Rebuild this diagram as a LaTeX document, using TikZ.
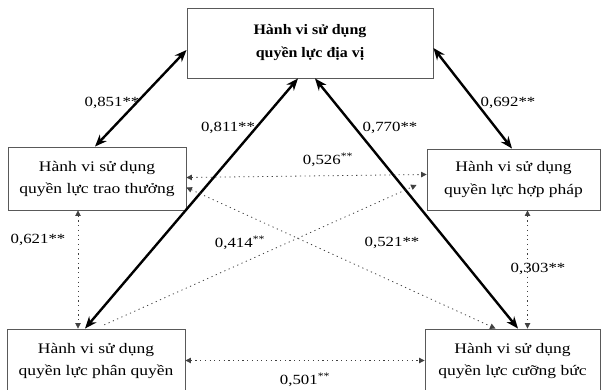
\documentclass[tikz,border=0pt]{standalone}
\usepackage{fontspec}
\setmainfont{Liberation Serif}[FakeStretch=1.2]
\newfontfamily\topfont{Liberation Serif}[FakeStretch=1.1]
\usetikzlibrary{arrows.meta}
\begin{document}
\begin{tikzpicture}[x=1pt,y=-1pt,
  box/.style={draw=black!65, line width=0.9pt, align=center, inner sep=0pt, font=\fontsize{14.6}{22}\selectfont},
  strong/.style={line width=2.4pt, {Stealth[length=12pt,width=9.5pt]}-{Stealth[length=12pt,width=9.5pt]}},
  weak/.style={line width=0.8pt, black!75, dash pattern=on 1.2pt off 3.5pt, {Triangle[length=5.5pt,width=5.5pt]}-{Triangle[length=5.5pt,width=5.5pt]}},
  lab/.style={font=\fontsize{14}{16}\selectfont, inner sep=0pt}]
\useasboundingbox (0,0) rectangle (602,390);
\fill[white] (0,0) rectangle (602,390);
\node[box, minimum width=246pt, minimum height=70pt, font=\topfont\bfseries\fontsize{14.5}{23}\selectfont] (top) at (310,43) {Hành vi sử dụng\\quyền lực địa vị};
\node[box, minimum width=178pt, minimum height=63pt] (left) at (97,178.5) {Hành vi sử dụng\\quyền lực trao thưởng};
\node[box, minimum width=173pt, minimum height=61pt] (right) at (513.5,179.5) {Hành vi sử dụng\\quyền lực hợp pháp};
\node[box, minimum width=178pt, minimum height=63pt] (bl) at (96,360.5) {Hành vi sử dụng\\quyền lực phân quyền};
\node[box, minimum width=175pt, minimum height=63pt] (br) at (512.5,360.5) {Hành vi sử dụng\\quyền lực cưỡng bức};
% strong links
\draw[strong] ([yshift=-7pt]top.west) -- ([xshift=-2pt]left.north);
\draw[strong] ([yshift=-5pt]top.east) -- ([xshift=-1.5pt]right.north);
\draw[strong] ([xshift=-12pt]top.south) -- ([xshift=-11pt]bl.north);
\draw[strong] ([xshift=5pt]top.south) -- ([xshift=5.5pt]br.north);
% weak links
\draw[weak] ([yshift=1pt]left.east) -- ([yshift=5pt]right.west);
\draw[weak] ([yshift=-9pt]left.east) -- ([xshift=-17pt]br.north);
\draw[weak, -{Triangle[length=5.5pt,width=5.5pt]}, shorten <=9pt, shorten >=11pt] ([xshift=0pt]bl.north) -- ([yshift=-1pt]right.west);
\draw[weak] ([xshift=-19pt]left.south) -- ([xshift=-18pt]bl.north);
\draw[weak] ([xshift=14pt]right.south) -- ([xshift=15pt]br.north);
\draw[weak] (bl.east) -- (br.west);
% labels
\node[lab] (l851) at (112,103) {0,851**};
\node[lab] (l811) at (228,128) {0,811**};
\node[lab] (l770) at (390,128) {0,770**};
\node[lab] (l692) at (508,103) {0,692**};
\node[lab] (l526) at (328,160) {0,526\textsuperscript{**}};
\node[lab] (l621) at (38,240) {0,621**};
\node[lab] (l414) at (240,243) {0,414\textsuperscript{**}};
\node[lab] (l521) at (392,243) {0,521**};
\node[lab] (l303) at (538,269) {0,303**};
\node[lab] (l501) at (305,380) {0,501\textsuperscript{**}};
\end{tikzpicture}
\end{document}
